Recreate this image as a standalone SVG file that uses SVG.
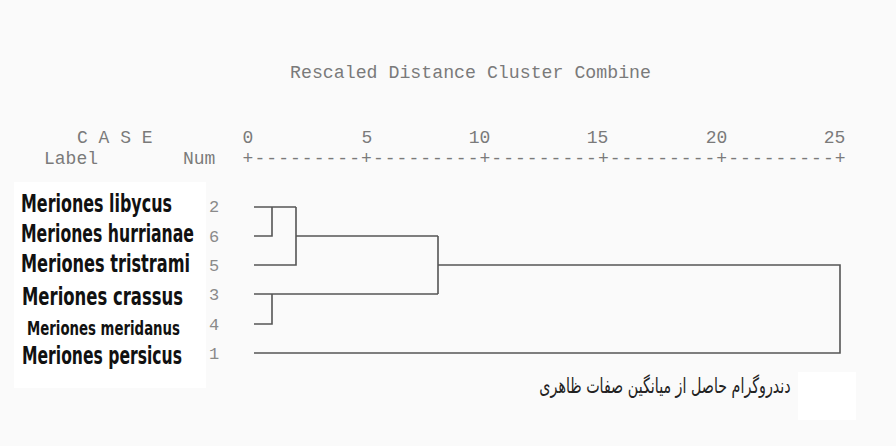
<svg xmlns="http://www.w3.org/2000/svg" width="896" height="446" viewBox="0 0 896 446">
<style>
.mono{font-family:"Liberation Mono","DejaVu Sans Mono",monospace;font-size:18px;fill:#7a7a7a}
.num{font-family:"Liberation Mono","DejaVu Sans Mono",monospace;font-size:17px;fill:#8a8a8a}
.lab{font-family:"Liberation Sans Narrow","DejaVu Sans Condensed","Liberation Sans",sans-serif;font-weight:bold;font-size:18.5px;fill:#111}
.fa{font-family:"DejaVu Sans","Noto Sans",sans-serif;font-size:21px;fill:#222}
.ln{fill:none;stroke:#555;stroke-width:1.6}
</style>
<rect x="0" y="0" width="896" height="446" fill="#fafafa"/>
<rect x="14" y="182" width="192" height="206" fill="#ffffff"/>
<rect x="798" y="372" width="58" height="48" fill="#ffffff"/>
<g id="header">
<text class="mono" x="290" y="78" textLength="361" lengthAdjust="spacingAndGlyphs">Rescaled Distance Cluster Combine</text>
<text class="mono" x="77" y="143">C A S E</text>
<text class="mono" x="44" y="164">Label</text>
<text class="mono" x="183" y="164">Num</text>
<text class="mono" x="253.4" y="143" text-anchor="end">0</text>
<text class="mono" x="372.4" y="143" text-anchor="end">5</text>
<text class="mono" x="490.4" y="143" text-anchor="end">10</text>
<text class="mono" x="608.4" y="143" text-anchor="end">15</text>
<text class="mono" x="727.4" y="143" text-anchor="end">20</text>
<text class="mono" x="845.4" y="143" text-anchor="end">25</text>
<text class="mono" x="242.6" y="164" textLength="603" lengthAdjust="spacing">+---------+---------+---------+---------+---------+</text>
</g>
<g id="case2"><text class="lab" transform="translate(21,212) scale(1,1.3)" textLength="151" lengthAdjust="spacingAndGlyphs">Meriones libycus</text><text class="num" x="209" y="212">2</text></g>
<g id="case6"><text class="lab" transform="translate(21,242) scale(1,1.3)" textLength="173" lengthAdjust="spacingAndGlyphs">Meriones hurrianae</text><text class="num" x="209" y="242">6</text></g>
<g id="case5"><text class="lab" transform="translate(21,272) scale(1,1.3)" textLength="169" lengthAdjust="spacingAndGlyphs">Meriones tristrami</text><text class="num" x="209" y="271">5</text></g>
<g id="case3"><text class="lab" transform="translate(22,305) scale(1,1.3)" textLength="161" lengthAdjust="spacingAndGlyphs">Meriones crassus</text><text class="num" x="209" y="300">3</text></g>
<g id="case4"><text class="lab" transform="translate(27,335) scale(1,1.3)" textLength="153" lengthAdjust="spacingAndGlyphs" style="font-size:15.5px">Meriones meridanus</text><text class="num" x="209" y="330">4</text></g>
<g id="case1"><text class="lab" transform="translate(22,364) scale(1,1.3)" textLength="160" lengthAdjust="spacingAndGlyphs">Meriones persicus</text><text class="num" x="209" y="359">1</text></g>
<g id="connectors">
<path class="ln" d="M254 207H296M254 236H272V207M254 265H296V207M296 236H438"/>
<path class="ln" d="M254 294H438M254 324H272V294M438 236V294M438 265H840V353H254"/>
</g>
<g id="caption">
<text class="fa" transform="translate(665,393) scale(0.68,1)" x="0" y="0" text-anchor="middle" direction="rtl">دندروگرام حاصل از میانگین صفات ظاهری</text>
</g>
</svg>
